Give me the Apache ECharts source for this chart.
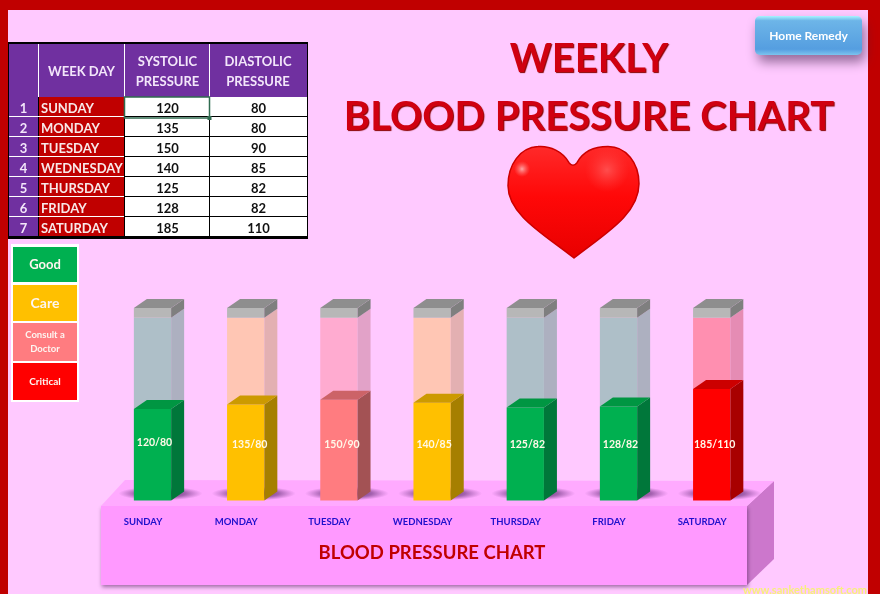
<!DOCTYPE html>
<html>
<head>
<meta charset="utf-8">
<title>Weekly Blood Pressure Chart</title>
<script src="https://cdn.jsdelivr.net/npm/echarts@6/dist/echarts.min.js"></script>
<style>
html, body { margin: 0; padding: 0; background: #ffc9ff; }
#main { width: 880px; height: 594px; }
</style>
</head>
<body>
<div id="main"></div>
<script>
var categories = ['SUNDAY', 'MONDAY', 'TUESDAY', 'WEDNESDAY', 'THURSDAY', 'FRIDAY', 'SATURDAY'];
var systolic = [120, 135, 150, 140, 125, 128, 185];
var diastolic = [80, 80, 90, 85, 82, 82, 110];
var dayStatus = ['good', 'care', 'consult', 'care', 'good', 'good', 'critical'];
var legendNames = ['Good', 'Care', 'Consult a\nDoctor', 'Critical'];
var tableHeads = ['WEEK DAY', 'SYSTOLIC\nPRESSURE', 'DIASTOLIC\nPRESSURE'];

// the picture's tube is not on a zero base, these are read from its scale
var axisMin = -177, axisMax = 448, capStart = 416, labelLevel = 6;

var colors = {
    good:     { front: '#00b050', side: '#00773a', top: '#009642', tube: '#aebfc8', tubeSide: '#adb0c0' },
    care:     { front: '#ffc000', side: '#a67f00', top: '#cc9a00', tube: '#ffc6b4', tubeSide: '#e3b0b2' },
    consult:  { front: '#ff7c80', side: '#a35254', top: '#cc6367', tube: '#ffabd0', tubeSide: '#e2a2c8' },
    critical: { front: '#ff0000', side: '#a80000', top: '#cc0000', tube: '#ff8fb0', tubeSide: '#e58cb4' }
};
var legendColors = ['#00b050', '#ffc000', '#ff7c80', '#ff0000'];
var labelNudge = [[2, -2], [4, 0], [3, 0], [2, 0], [2, 0], [2, 0], [3, 0]];

var uiFont = 'Lato, "Open Sans", sans-serif';
var depthX = 13, depthY = 9;

function box(x, y, w, h, fill) {
    return { type: 'rect', shape: { x: x, y: y, width: w, height: h }, style: { fill: fill } };
}
function poly(points, fill) {
    return { type: 'polygon', shape: { points: points }, style: { fill: fill } };
}
function label(text, x, y, size, fill, align) {
    return {
        type: 'text', x: x, y: y,
        style: {
            text: text, fill: fill, font: 'bold ' + size + 'px ' + uiFont,
            align: align || 'center', verticalAlign: 'middle', lineHeight: Math.round(size * 1.5)
        }
    };
}

var graphics = [];

// page frame
graphics.push(box(0, 0, 880, 10, '#c00000'));
graphics.push(box(0, 0, 8, 594, '#c00000'));
graphics.push(box(868, 0, 12, 594, '#c00000'));

// table
var tableTop = 43, headBottom = 97, rowH = 20;
graphics.push(box(8, tableTop - 1, 300, 197, '#000000'));
graphics.push(box(9, tableTop + 1, 298, headBottom - tableTop - 1, '#7030a0'));
graphics.push(box(38, tableTop + 1, 1, headBottom - tableTop - 1, '#ffffff'));
graphics.push(box(124, tableTop + 1, 1, headBottom - tableTop - 1, '#ffffff'));
graphics.push(box(209, tableTop + 1, 1, headBottom - tableTop - 1, '#ffffff'));
graphics.push(label(tableHeads[0], 81.5, 72, 13, '#f3e6fa'));
graphics.push(label(tableHeads[1], 167.5, 72, 13, '#f3e6fa'));
graphics.push(label(tableHeads[2], 258, 72, 13, '#f3e6fa'));
categories.forEach(function (day, i) {
    var y = headBottom + i * rowH;
    var h = rowH - 1;
    graphics.push(box(9, y, 29, h, '#7030a0'));
    graphics.push(box(39, y, 85, h, '#c00000'));
    graphics.push(box(125, y, 84, h, '#ffffff'));
    graphics.push(box(210, y, 97, h, '#ffffff'));
    graphics.push(label(String(i + 1), 23.5, y + 12, 13, '#f3e6fa'));
    graphics.push(label(day, 41, y + 12, 13, '#f8e8e8', 'left'));
    graphics.push(label(String(systolic[i]), 167.5, y + 12, 13, '#111111'));
    graphics.push(label(String(diastolic[i]), 258.5, y + 12, 13, '#111111'));
    if (i < categories.length - 1) {
        graphics.push(box(9, y + h, 115, 1, '#ffffff'));
    }
});
// selected cell from the sheet
graphics.push({
    type: 'rect', shape: { x: 124.5, y: 97, width: 85, height: 21 },
    style: { fill: 'none', stroke: '#2f6b4f', lineWidth: 1.5 }
});
graphics.push(box(207.5, 116, 4, 4, '#2f6b4f'));

// legend
graphics.push(box(11, 244, 68, 158, '#ffffff'));
var legendY = [[247, 35], [285, 36], [323, 38], [363, 37]];
var legendSize = [13, 14, 9.5, 10];
legendNames.forEach(function (name, i) {
    graphics.push(box(13, legendY[i][0], 64, legendY[i][1], legendColors[i]));
    graphics.push(label(name, 45, legendY[i][0] + legendY[i][1] / 2, legendSize[i], '#fdf5f0'));
});

// button
graphics.push({
    type: 'rect',
    shape: { x: 755, y: 16, width: 107, height: 39, r: 5 },
    style: {
        fill: new echarts.graphic.LinearGradient(0, 0, 0, 1, [
            { offset: 0, color: '#a8f4ff' },
            { offset: 0.12, color: '#6db5e8' },
            { offset: 0.85, color: '#559ee0' },
            { offset: 1, color: '#7cc4ee' }
        ]),
        shadowColor: 'rgba(60,30,70,0.55)', shadowBlur: 12, shadowOffsetX: 3, shadowOffsetY: 7
    }
});
graphics.push(label('Home Remedy', 808.5, 36, 12, '#ffffff'));

// title
[['WEEKLY', 59], ['BLOOD PRESSURE CHART', 117]].forEach(function (t) {
    var el = label(t[0], 589, t[1], 40, '#d00010');
    el.style.textShadowColor = '#8a0000';
    el.style.textShadowBlur = 1;
    el.style.textShadowOffsetX = 1;
    el.style.textShadowOffsetY = 1;
    graphics.push(el);
});

// platform the bars stand on
var platformFront = poly([[101, 506], [747, 506], [747, 585], [101, 585]], '#ff99ff');
platformFront.style.shadowColor = 'rgba(90,40,100,0.6)';
platformFront.style.shadowBlur = 4;
platformFront.style.shadowOffsetX = 1;
platformFront.style.shadowOffsetY = 2;
graphics.push(poly([[747, 506], [774, 481], [774, 559], [747, 585]], '#cc77cc'));
graphics.push(platformFront);
graphics.push(poly([[101, 506], [125, 480], [774, 481], [747, 506]], '#ffaaff'));
graphics.push(label('BLOOD PRESSURE CHART', 432, 553, 18.5, '#c00000'));
graphics.push(label('www.sankethamsoft.com', 805, 590, 11, '#f7f07a'));

// heart goes through a custom series, the graphic component has no path type
var heartPath = 'M569,163 C563,152 550,146 538,147 C520,148 508,165 508,186 C508,215 545,235 574,258 C603,235 639,215 639,184 C639,163 626,147 608,147 C595,147 583,152 577,163 Q573,168 569,163 Z';
function renderHeart() {
    return {
        type: 'group',
        children: [
            {
                type: 'path',
                shape: { pathData: heartPath, x: 508, y: 146.5, width: 131, height: 111.5, layout: 'cover' },
                style: {
                    fill: new echarts.graphic.LinearGradient(0, 0, 0, 1, [
                        { offset: 0, color: '#ff2a2a' },
                        { offset: 0.45, color: '#ff0808' },
                        { offset: 1, color: '#e80000' }
                    ]),
                    stroke: '#cc0000', lineWidth: 1.5
                }
            },
            {
                type: 'circle', shape: { cx: 607, cy: 170, r: 22 },
                style: {
                    fill: new echarts.graphic.RadialGradient(0.5, 0.5, 0.5, [
                        { offset: 0, color: 'rgba(255,90,90,0.8)' },
                        { offset: 1, color: 'rgba(255,60,60,0)' }
                    ])
                }
            },
            {
                type: 'circle', shape: { cx: 522, cy: 169, r: 8 },
                style: {
                    fill: new echarts.graphic.RadialGradient(0.5, 0.5, 0.5, [
                        { offset: 0, color: 'rgba(255,190,190,0.85)' },
                        { offset: 1, color: 'rgba(255,120,120,0)' }
                    ])
                }
            }
        ]
    };
}

function renderTube(params, api) {
    var idx = params.dataIndex;
    var col = colors[dayStatus[idx]];
    var mid = api.coord([idx, 0])[0];
    var w = api.size([1, 0])[0] * 0.4;
    var x0 = mid + 9.5 - w / 2;
    var x1 = x0 + w;
    var yBase = api.coord([idx, axisMin])[1];
    var yVal = api.coord([idx, api.value(1)])[1];
    var yCap = api.coord([idx, capStart])[1];
    var yTop = api.coord([idx, axisMax])[1];
    var yLabel = api.coord([idx, labelLevel])[1];
    var nudge = labelNudge[idx];

    function side(yA, yB, fill) {
        return poly([[x1, yA], [x1 + depthX, yA - depthY], [x1 + depthX, yB - depthY], [x1, yB]], fill);
    }
    function lid(y, fill) {
        return poly([[x0, y], [x0 + depthX, y - depthY], [x1 + depthX, y - depthY], [x1, y]], fill);
    }
    // soft shadow on the platform, a circle stretched sideways
    var foot = {
        type: 'circle',
        x: x0 + w / 2 + 8, y: yBase - 7, scaleX: 6,
        shape: { cx: 0, cy: 0, r: 7 },
        style: {
            fill: new echarts.graphic.RadialGradient(0.5, 0.5, 0.5, [
                { offset: 0, color: 'rgba(60,20,80,0.9)' },
                { offset: 0.6, color: 'rgba(90,40,110,0.55)' },
                { offset: 1, color: 'rgba(120,60,140,0)' }
            ])
        }
    };
    return {
        type: 'group',
        children: [
            foot,
            box(x0, yCap, w, yVal - yCap, col.tube),
            side(yVal, yCap, col.tubeSide),
            box(x0, yTop, w, yCap - yTop, '#b7b7b7'),
            side(yCap, yTop, '#7f7f7f'),
            lid(yTop, '#8e8e8e'),
            box(x0, yVal, w, yBase - yVal, col.front),
            side(yBase, yVal, col.side),
            lid(yVal, col.top),
            {
                type: 'text', x: x0 + w / 2 + nudge[0], y: yLabel + nudge[1],
                style: {
                    text: systolic[idx] + '/' + diastolic[idx], fill: '#fff8e8',
                    font: 'bold 10.5px ' + uiFont, align: 'center', verticalAlign: 'middle'
                }
            }
        ]
    };
}

var chart = echarts.init(document.getElementById('main'));
chart.setOption({
    backgroundColor: '#ffc9ff',
    animation: false,
    graphic: { elements: graphics },
    grid: { left: 96.4, width: 652.4, top: 308, height: 192.5, containLabel: false },
    xAxis: {
        type: 'category',
        data: categories,
        z: 5,
        axisLine: { show: false },
        axisTick: { show: false },
        axisLabel: {
            interval: 0, margin: 16,
            color: '#1f10cc', fontSize: 9.5, fontWeight: 'bold', fontFamily: uiFont
        }
    },
    yAxis: { type: 'value', min: axisMin, max: axisMax, show: false, splitLine: { show: false } },
    series: [
        {
            type: 'custom',
            z: 4,
            clip: false,
            renderItem: renderTube,
            encode: { x: 0, y: 1 },
            data: systolic.map(function (v, i) { return [i, v]; })
        },
        {
            type: 'custom',
            coordinateSystem: 'none',
            z: 3,
            silent: true,
            renderItem: renderHeart,
            data: [[0]]
        }
    ]
});
</script>
</body>
</html>
